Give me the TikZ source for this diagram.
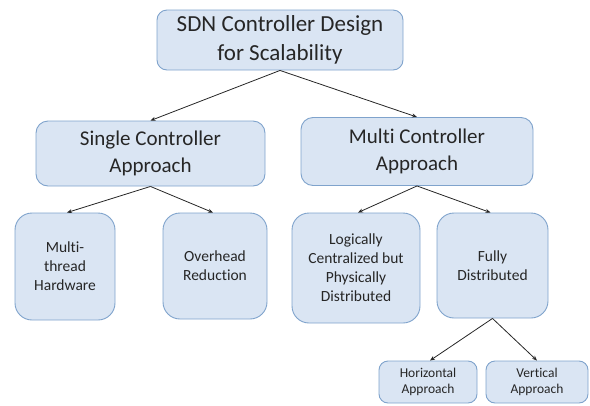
\documentclass[tikz,border=0pt]{standalone}
\usepackage{fontspec}
\setmainfont[Ligatures={NoCommon}]{Carlito}
\usetikzlibrary{arrows.meta,calc}
\definecolor{boxfill}{HTML}{DAE5F3}
\definecolor{boxline}{HTML}{7FA3CC}
\definecolor{linkcol}{HTML}{262626}
\tikzset{
  box/.style={draw=boxline, fill=boxfill, line width=0.9pt, align=center,
    inner sep=0pt, text=black!85},
  lvlA/.style={box, rounded corners=10pt, font=\fontsize{23}{29}\selectfont},
  lvlB/.style={box, rounded corners=12pt, font=\fontsize{21}{26.5}\selectfont},
  lvlC/.style={box, rounded corners=17pt, font=\fontsize{15.5}{19}\selectfont},
  lvlD/.style={box, rounded corners=9pt, font=\fontsize{13.5}{16}\selectfont},
  link/.style={draw=linkcol, line width=0.8pt, -{Stealth[length=5pt,width=4pt]}}
}
\begin{document}
\begin{tikzpicture}[x=1pt,y=-1pt]
\useasboundingbox (0,0) rectangle (590,405);

\node[lvlA, minimum width=246pt, minimum height=60pt] (root) at (280,40)
  {SDN Controller Design\\for Scalability};

\node[lvlB, minimum width=229pt, minimum height=65pt] (single) at (150.5,153.5)
  {Single Controller\\Approach};
\node[lvlB, minimum width=232pt, minimum height=68pt] (multi) at (417,151.5)
  {Multi Controller\\Approach};

\node[lvlC, minimum width=100pt, minimum height=107pt] (thread) at (65,266.5)
  {Multi-\\thread\\Hardware};
\node[lvlC, minimum width=104pt, minimum height=106pt] (overhead) at (215,266)
  {Overhead\\Reduction};
\node[lvlC, minimum width=128pt, minimum height=110pt] (logical) at (356,268)
  {Logically\\Centralized but\\Physically\\Distributed};
\node[lvlC, minimum width=111pt, minimum height=105pt] (fully) at (492.5,265.5)
  {Fully\\Distributed};

\node[lvlD, minimum width=98pt, minimum height=42pt] (horiz) at (428,382)
  {Horizontal\\Approach};
\node[lvlD, minimum width=102pt, minimum height=42pt] (vert) at (537,382)
  {Vertical\\Approach};

\draw[link] (root.south) -- (single.north);
\draw[link] (root.south) -- (multi.north);
\draw[link] (single.south) -- ($(thread.north)+(2,0)$);
\draw[link] (single.south) -- ($(overhead.north)+(-2,0)$);
\draw[link] (multi.south) -- ($(logical.north)+(2,0)$);
\draw[link] (multi.south) -- ($(fully.north)+(-2,0)$);
\draw[link] (fully.south) -- ($(horiz.north)+(2,0)$);
\draw[link] (fully.south) -- (vert.north);
\end{tikzpicture}
\end{document}
